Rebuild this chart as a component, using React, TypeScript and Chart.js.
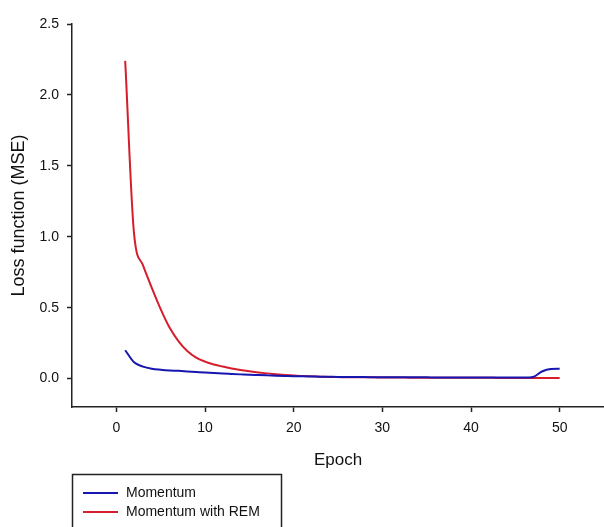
import React, { useEffect, useRef } from "react";
import { Chart, registerables } from "chart.js";

Chart.register(...registerables);

const epochs: number[] = Array.from({ length: 50 }, (_, i) => i + 1);

const momentum: number[] = [
  0.2, 0.115, 0.085, 0.07, 0.063, 0.058, 0.055, 0.051, 0.047, 0.043,
  0.04, 0.036, 0.033, 0.03, 0.027, 0.025, 0.023, 0.021, 0.019, 0.017,
  0.016, 0.015, 0.014, 0.013, 0.012, 0.012, 0.011, 0.011, 0.01, 0.01,
  0.01, 0.009, 0.009, 0.009, 0.009, 0.008, 0.008, 0.008, 0.008, 0.008,
  0.008, 0.008, 0.008, 0.008, 0.008, 0.008, 0.012, 0.05, 0.068, 0.07,
];

const momentumREM: number[] = [
  2.24, 1.02, 0.8, 0.64, 0.49, 0.36, 0.265, 0.195, 0.148, 0.12,
  0.1, 0.085, 0.072, 0.061, 0.052, 0.044, 0.037, 0.031, 0.026, 0.022,
  0.018, 0.016, 0.014, 0.012, 0.011, 0.01, 0.01, 0.009, 0.009, 0.008,
  0.008, 0.008, 0.007, 0.007, 0.007, 0.007, 0.006, 0.006, 0.006, 0.006,
  0.006, 0.006, 0.005, 0.005, 0.005, 0.005, 0.005, 0.005, 0.005, 0.005,
];

const xTicks: number[] = [0, 10, 20, 30, 40, 50];
const yTicks: number[] = [0, 0.5, 1.0, 1.5, 2.0, 2.5];

const seriesNames: string[] = ["Momentum", "Momentum with REM"];
const seriesColors: string[] = ["#1616b0", "#d41e2c"];

const FONT = "'Liberation Sans', Arial, sans-serif";

const legendBox = {
  id: "legendBox",
  afterDraw(chart: any) {
    const ctx = chart.ctx;
    ctx.save();
    ctx.strokeStyle = "#222";
    ctx.lineWidth = 1.5;
    ctx.strokeRect(72.5, 474.5, 209, 70);
    ctx.font = `14px ${FONT}`;
    ctx.textBaseline = "middle";
    ctx.fillStyle = "#111";
    chart.data.datasets.forEach((ds: any, i: number) => {
      const y = 493 + i * 19;
      ctx.strokeStyle = ds.borderColor;
      ctx.lineWidth = 2;
      ctx.beginPath();
      ctx.moveTo(83, y);
      ctx.lineTo(118, y);
      ctx.stroke();
      ctx.fillText(ds.label, 126, y);
    });
    ctx.restore();
  },
};

export default function App() {
  const ref = useRef<HTMLCanvasElement | null>(null);
  useEffect(() => {
    if (!ref.current) return;
    const chart = new Chart(ref.current, {
      type: "line",
      data: {
        labels: epochs,
        datasets: [
          {
            label: seriesNames[0],
            data: epochs.map((e, i) => ({ x: e, y: momentum[i] })),
            borderColor: seriesColors[0],
            borderWidth: 2,
            pointRadius: 0,
            cubicInterpolationMode: "monotone",
            fill: false,
          },
          {
            label: seriesNames[1],
            data: epochs.map((e, i) => ({ x: e, y: momentumREM[i] })),
            borderColor: seriesColors[1],
            borderWidth: 2,
            pointRadius: 0,
            cubicInterpolationMode: "monotone",
            fill: false,
          },
        ],
      },
      options: {
        animation: false,
        responsive: false,
        layout: { padding: { top: 24, left: 0, right: 0, bottom: 0 } },
        plugins: { legend: { display: false }, tooltip: { enabled: false } },
        scales: {
          x: {
            type: "linear",
            min: -5,
            max: 55,
            afterBuildTicks: (s: any) => {
              s.ticks = xTicks.map((v) => ({ value: v }));
            },
            afterFit: (s: any) => {
              s.height = 120;
            },
            grid: {
              drawOnChartArea: false,
              drawTicks: true,
              tickLength: 5,
              tickColor: "#222",
              tickWidth: 1.5,
            },
            border: { display: true, color: "#222", width: 1.5 },
            ticks: {
              font: { family: FONT, size: 14 },
              color: "#111",
              padding: 8,
              maxRotation: 0,
            },
            title: {
              display: true,
              text: "Epoch",
              font: { family: FONT, size: 17 },
              color: "#111",
              padding: { top: 0, bottom: 56 },
            },
          },
          y: {
            type: "linear",
            min: -0.2,
            max: 2.5,
            afterBuildTicks: (s: any) => {
              s.ticks = yTicks.map((v) => ({ value: v }));
            },
            afterFit: (s: any) => {
              s.width = 72;
            },
            grid: {
              drawOnChartArea: false,
              drawTicks: true,
              tickLength: 5,
              tickColor: "#222",
              tickWidth: 1.5,
            },
            border: { display: true, color: "#222", width: 1.5 },
            ticks: {
              font: { family: FONT, size: 14 },
              color: "#111",
              padding: 8,
              callback: (v: any) => Number(v).toFixed(1),
            },
            title: {
              display: true,
              text: "Loss function (MSE)",
              font: { family: FONT, size: 18 },
              color: "#111",
              padding: { top: 8, bottom: 0 },
            },
          },
        },
      },
      plugins: [legendBox],
    });
    return () => chart.destroy();
  }, []);
  return (
    <div style={{ position: "absolute", left: 0, top: 0, width: 604, height: 527, background: "#fff" }}>
      <canvas ref={ref} width={604} height={527} />
    </div>
  );
}
